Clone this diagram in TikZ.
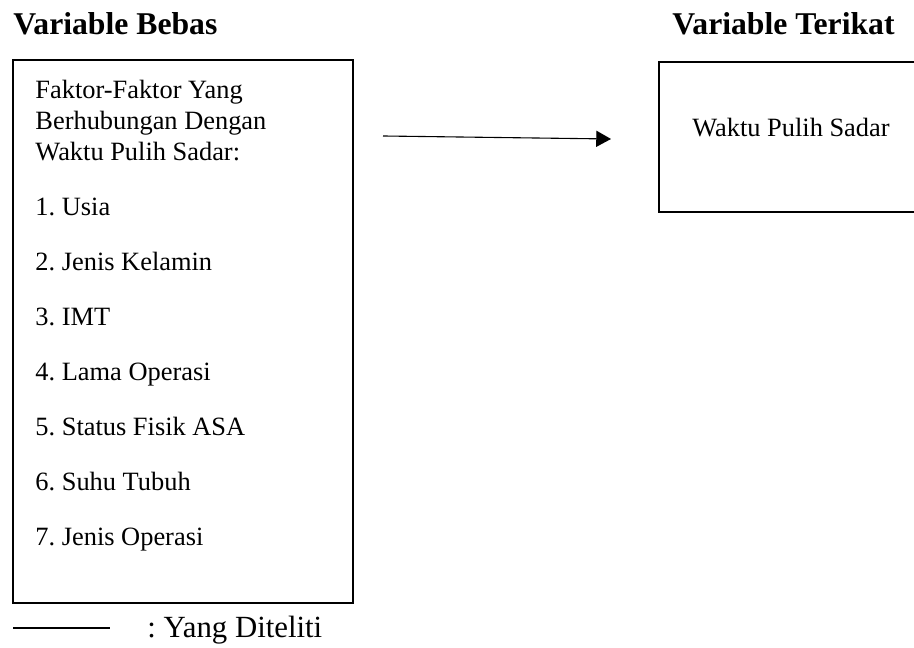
\documentclass[tikz,border=0pt]{standalone}
\usepackage{fontspec}
\setmainfont{Liberation Serif}
\usepackage{tikz}
\usetikzlibrary{arrows.meta, positioning}
\tikzset{
  varbox/.style={rectangle, draw, line width=0.9pt, inner sep=0pt},
  judul/.style={anchor=west, inner sep=0pt, text height=9.5pt, text depth=0pt,
                font=\fontsize{14.4}{17}\selectfont\bfseries},
  isitext/.style={anchor=west, inner sep=0pt, text height=7.9pt, text depth=0pt,
                  font=\fontsize{12}{14.1}\selectfont},
  arr/.style={-{Triangle[length=6.7pt, width=7.3pt]}, line width=0.5pt},
}

\begin{document}
\frenchspacing
\begin{tikzpicture}[x=0.4545pt, y=-0.4545pt]
  % Canvas
  \useasboundingbox (0,0) rectangle (914,648);

  % Headings
  \node [judul] (hbebas) at (13,24) {Variable Bebas};
  \node [judul] (hterikat) at (672,24) {Variable Terikat};

  % Boxes
  \node [varbox, minimum width=154.5pt, minimum height=246.8pt] (bebas) at (183,331.5) {};
  \node [varbox, minimum width=120pt, minimum height=68.2pt] (terikat) at (791,137) {};

  % Independent variables
  \node [anchor=west, inner sep=0pt, align=left, font=\fontsize{12}{14.1}\selectfont]
    (faktor) at (35,121) {Faktor-Faktor Yang\\Berhubungan Dengan\\Waktu Pulih Sadar:};
  \node [isitext] (usia) at (35,207) {1. Usia};
  \node [isitext] (kelamin) at (35,262) {2. Jenis Kelamin};
  \node [isitext] (imt) at (35,317) {3. IMT};
  \node [isitext] (lama) at (35,372) {4. Lama Operasi};
  \node [isitext] (asa) at (35,427) {5. Status Fisik ASA};
  \node [isitext] (suhu) at (35,482) {6. Suhu Tubuh};
  \node [isitext] (jenis) at (35,537) {7. Jenis Operasi};

  % Dependent variable
  \node [isitext, anchor=center] (waktu) at (791,128) {Waktu Pulih Sadar};

  % Edges
  \coordinate (panah1) at (383,136);
  \coordinate (panah2) at (611,139);
  \draw [arr] (panah1) -- (panah2);

  % Legend
  \coordinate (garis1) at (13,628);
  \coordinate (garis2) at (110,628);
  \draw [line width=0.5pt] (garis1) -- (garis2);
  \node [isitext, text height=9.3pt, font=\fontsize{14}{16}\selectfont]
    (ket) at (147,627) {: Yang Diteliti};
\end{tikzpicture}
\end{document}
